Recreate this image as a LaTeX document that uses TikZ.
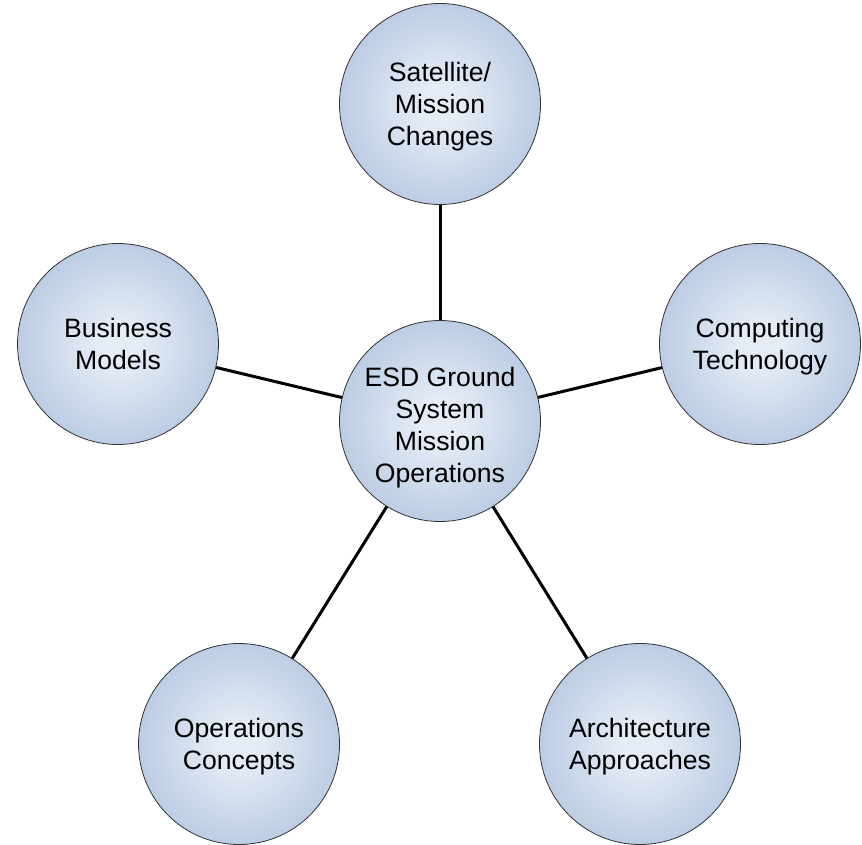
\documentclass[tikz,border=0pt]{standalone}
\usepackage{fontspec}
\setmainfont{Liberation Sans}
\definecolor{ballin}{RGB}{230,236,246}
\definecolor{ballmid}{RGB}{178,197,223}
\definecolor{ballout}{RGB}{120,148,189}
\pgfdeclareradialshading{ballshade}{\pgfpoint{0bp}{0bp}}{color(0bp)=(ballin); color(5bp)=(ballin); color(30bp)=(ballmid); color(50bp)=(ballout)}
\begin{document}
\begin{tikzpicture}[x=1pt,y=-1pt,
  ball/.style={circle, draw=black!80, line width=0.8pt, shading=ballshade,
    minimum size=201pt, inner sep=0pt},
  txt/.style={align=center, inner sep=0pt, font=\fontsize{26.6}{32}\selectfont},
  link/.style={line width=3pt, black}]
\useasboundingbox (0,0) rectangle (862,845);
\node[ball] (c) at (440,421) {};
\node[ball] (t) at (440,104) {};
\node[ball] (b) at (118,344) {};
\node[ball] (p) at (760,344) {};
\node[ball] (o) at (239,744) {};
\node[ball] (a) at (640,744) {};
\node[txt] (ct) at ([yshift=-7pt]c) {\strut ESD Ground\\System\\Mission\\Operations\strut};
\node[txt] (tt) at ([yshift=-3pt]t) {\strut Satellite/\\Mission\\Changes\strut};
\node[txt] (bt) at ([yshift=-3pt]b) {\strut Business\\Models\strut};
\node[txt] (pt) at ([yshift=-3pt]p) {\strut Computing\\Technology\strut};
\node[txt] (ot) at ([yshift=-3pt]o) {\strut Operations\\Concepts\strut};
\node[txt] (at) at ([yshift=-3pt]a) {\strut Architecture\\Approaches\strut};
\draw[link] (c) -- (t);
\draw[link] (c) -- (b);
\draw[link] (c) -- (p);
\draw[link] (c) -- (o);
\draw[link] (c) -- (a);
\end{tikzpicture}
\end{document}
